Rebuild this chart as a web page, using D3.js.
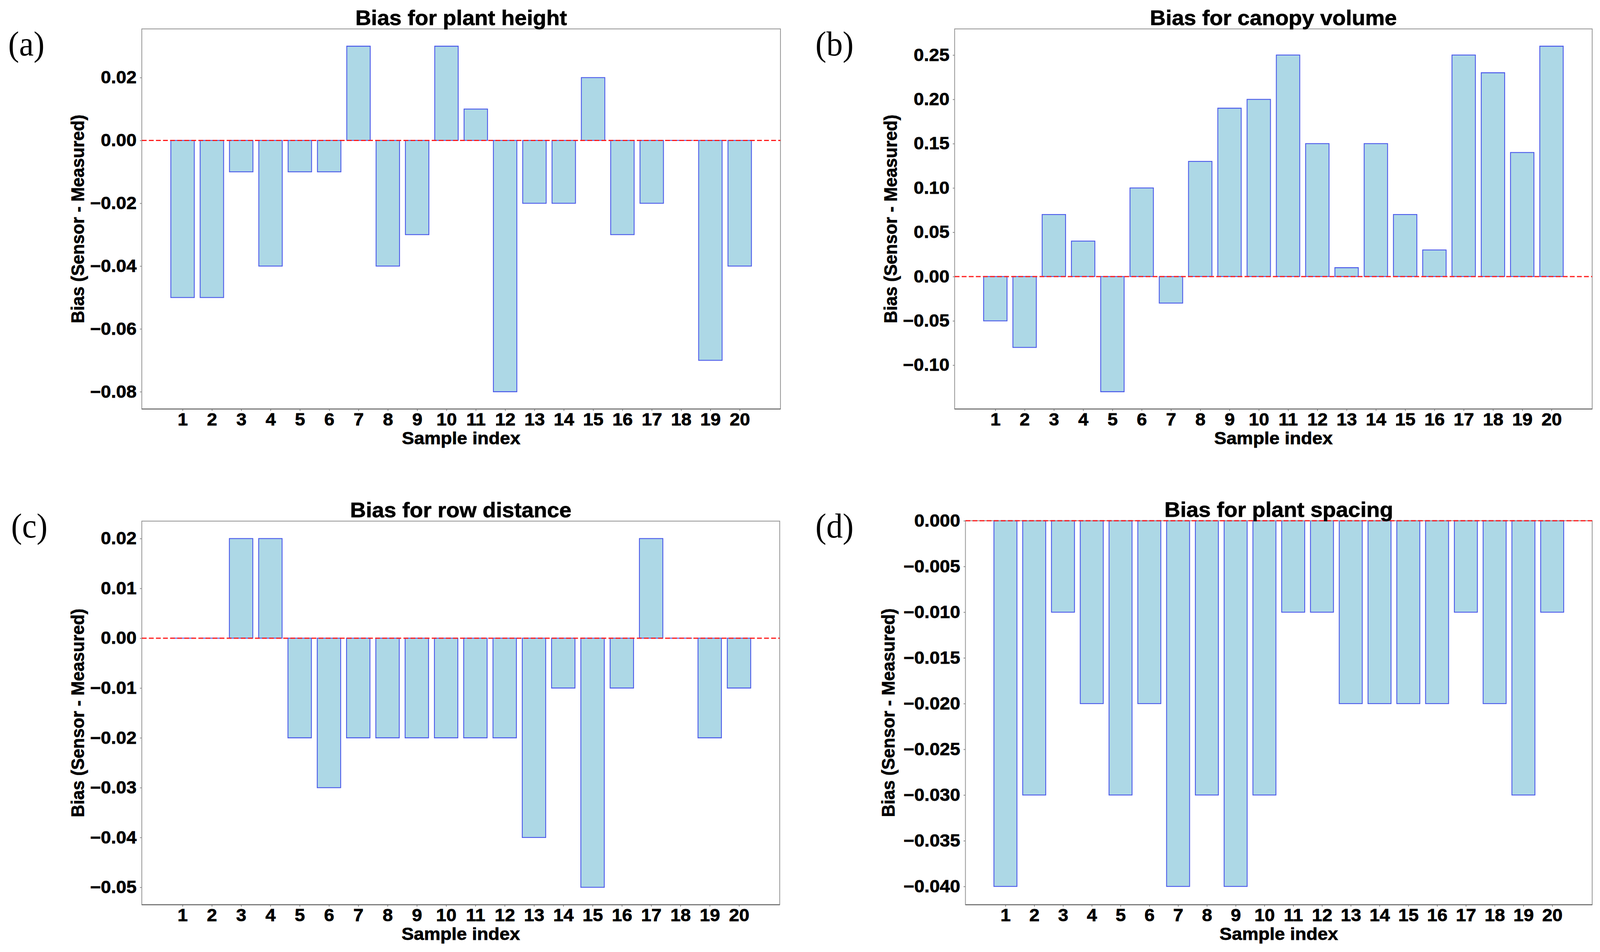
<!DOCTYPE html>
<html><head><meta charset="utf-8">
<script src="https://cdn.jsdelivr.net/npm/d3@7"></script>
<style>html,body{margin:0;padding:0;background:#fff;overflow:hidden}svg{display:block;width:100vw;height:100vh}</style>
</head><body><svg id="chart" viewBox="0 0 4299 2437" preserveAspectRatio="none"></svg>
<script>
// ---------- data ----------
const sampleIndex = [1,2,3,4,5,6,7,8,9,10,11,12,13,14,15,16,17,18,19,20];
const plantHeightBias  = [-0.05,-0.05,-0.01,-0.04,-0.01,-0.01,0.03,-0.04,-0.03,0.03,0.01,-0.08,-0.02,-0.02,0.02,-0.03,-0.02,0.00,-0.07,-0.04];
const canopyVolumeBias = [-0.05,-0.08,0.07,0.04,-0.13,0.10,-0.03,0.13,0.19,0.20,0.25,0.15,0.01,0.15,0.07,0.03,0.25,0.23,0.14,0.26];
const rowDistanceBias  = [0.00,0.00,0.02,0.02,-0.02,-0.03,-0.02,-0.02,-0.02,-0.02,-0.02,-0.02,-0.04,-0.01,-0.05,-0.01,0.02,0.00,-0.02,-0.01];
const plantSpacingBias = [-0.04,-0.03,-0.01,-0.02,-0.03,-0.02,-0.04,-0.03,-0.04,-0.03,-0.01,-0.01,-0.02,-0.02,-0.02,-0.02,-0.01,-0.02,-0.03,-0.01];

const yTicksHeight  = [-0.08,-0.06,-0.04,-0.02,0.00,0.02];
const yTicksCanopy  = [-0.10,-0.05,0.00,0.05,0.10,0.15,0.20,0.25];
const yTicksRow     = [-0.05,-0.04,-0.03,-0.02,-0.01,0.00,0.01,0.02];
const yTicksSpacing = [-0.040,-0.035,-0.030,-0.025,-0.020,-0.015,-0.010,-0.005,0.000];

const titles = ["Bias for plant height","Bias for canopy volume","Bias for row distance","Bias for plant spacing"];
const panelLetters = ["(a)","(b)","(c)","(d)"];
const xLabel = "Sample index";
const yLabel = "Bias (Sensor - Measured)";

// ---------- layout ----------
const SX = 1.11;           // horizontal stretch of the text in the reference
const FONT = "'Liberation Sans', Arial, Helvetica, sans-serif";
const SERIF = "'Palatino Linotype','Book Antiqua','Liberation Serif','Times New Roman',serif";
const TICK_FS = 44.5, LABEL_FS = 44.5, TITLE_FS = 53;

const panels = [
  {values: plantHeightBias,  ticks: yTicksHeight,  fmt: ".2f", l: 381,  r: 2097, t: 74,   b: 1047, ylx: -155, letterX: 22,   letterY: 142},
  {values: canopyVolumeBias, ticks: yTicksCanopy,  fmt: ".2f", l: 2565, r: 4278, t: 74,   b: 1047, ylx: -155, letterX: 2191, letterY: 142},
  {values: rowDistanceBias,  ticks: yTicksRow,     fmt: ".2f", l: 381,  r: 2095, t: 1334, b: 2316, ylx: -155, letterX: 30,   letterY: 1376},
  {values: plantSpacingBias, ticks: yTicksSpacing, fmt: ".3f", l: 2594, r: 4278, t: 1333, b: 2316, ylx: -190, letterX: 2191, letterY: 1376}
];

const svg = d3.select("#chart");
svg.append("rect").attr("width",4299).attr("height",2437).attr("fill","#fff");

function sText(g, x, y, str, size, anchor, rot){
  return g.append("text")
    .attr("transform", `translate(${x},${y}) scale(${SX},1)` + (rot ? ` rotate(${rot})` : ""))
    .attr("text-anchor", anchor)
    .style("font-family", FONT).style("font-weight","bold")
    .style("font-size", size + "px").attr("fill","#000")
    .attr("stroke","#000").attr("stroke-width",0.9)
    .text(str);
}

panels.forEach((p, i) => {
  const g = svg.append("g");
  const vals = p.values;
  const lo0 = Math.min(0, d3.min(vals)), hi0 = Math.max(0, d3.max(vals));
  const m = 0.05 * (hi0 - lo0);
  const lo = lo0 === 0 ? 0 : lo0 - m;
  const hi = hi0 === 0 ? 0 : hi0 + m;
  const y = d3.scaleLinear().domain([lo, hi]).range([p.b, p.t]);
  const bw = 0.8;
  const first = sampleIndex[0], last = sampleIndex[sampleIndex.length-1];
  const xm = 0.05 * (last - first + bw);
  const x = d3.scaleLinear().domain([first - bw/2 - xm, last + bw/2 + xm]).range([p.l, p.r]);

  // bars
  g.selectAll("path.bar").data(vals).join("path").attr("class","bar")
    .attr("d", (d, k) => {
      const x0 = x(sampleIndex[k] - bw/2), x1 = x(sampleIndex[k] + bw/2);
      const y0 = y(0), y1 = y(d);
      return `M${x0},${y0}H${x1}V${y1}H${x0}Z`;
    })
    .attr("fill", "#add8e6").attr("stroke", "#4a58ea").attr("stroke-width", 2.3);

  // axes
  const ya = g.append("g").attr("transform", `translate(${p.l},0)`)
    .call(d3.axisLeft(y).tickValues(p.ticks).tickFormat(d3.format(p.fmt)).tickSizeInner(5).tickSizeOuter(0).tickPadding(9));
  const xa = g.append("g").attr("transform", `translate(0,${p.b})`)
    .call(d3.axisBottom(x).tickValues(sampleIndex).tickFormat(d3.format("d")).tickSizeInner(5).tickSizeOuter(0).tickPadding(5));
  [ya, xa].forEach(a => {
    a.select(".domain").remove();
    a.selectAll(".tick line").attr("stroke", "#888").attr("stroke-width", 2);
    a.selectAll(".tick text")
      .style("font-family", FONT).style("font-weight","bold").style("font-size", TICK_FS + "px")
      .attr("fill","#000").attr("stroke","#000").attr("stroke-width",0.9)
      .each(function(){
        const t = d3.select(this);
        t.attr("x", (+t.attr("x") || 0) / SX).attr("transform", `scale(${SX},1)`);
      });
  });

  // frame
  g.append("rect").attr("x", p.l).attr("y", p.t).attr("width", p.r - p.l).attr("height", p.b - p.t)
    .attr("fill","none").attr("stroke","#999").attr("stroke-width",2.2);
  g.append("line").attr("x1", p.l).attr("x2", p.r).attr("y1", p.b).attr("y2", p.b)
    .attr("stroke","#666").attr("stroke-width",2.6);

  // zero line
  g.append("line").attr("x1", p.l).attr("x2", p.r).attr("y1", y(0)).attr("y2", y(0))
    .attr("stroke","#ff1a1a").attr("stroke-width",3).attr("stroke-dasharray","13,6");

  // texts
  const cx = (p.l + p.r) / 2;
  sText(g, cx, p.t - 10, titles[i], TITLE_FS, "middle");
  sText(g, cx, p.b + 90, xLabel, LABEL_FS, "middle");
  sText(g, p.l + p.ylx, (p.t + p.b) / 2, yLabel, LABEL_FS, "middle", -90);

  g.append("text").attr("x", p.letterX).attr("y", p.letterY)
    .style("font-family", SERIF).style("font-size","88px").attr("fill","#000")
    .text(panelLetters[i]);
});
</script></body></html>
